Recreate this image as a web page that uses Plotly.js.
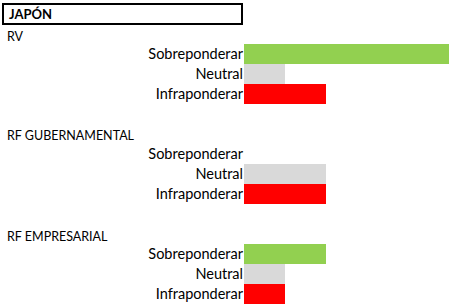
<!DOCTYPE html>
<html><head><meta charset="utf-8">
<script src="https://cdn.plot.ly/plotly-3.0.1.min.js"></script>
<style>html,body{margin:0;padding:0;background:#fff}#c{width:455px;height:308px}</style>
</head><body><div id="c"></div>
<script>
const categories = ["Sobreponderar", "Neutral", "Infraponderar"];
const sections = ["RV", "RF GUBERNAMENTAL", "RF EMPRESARIAL"];
const rvValues = [5, 1, 2];
const rfGubValues = [0, 2, 2];
const rfEmpValues = [2, 1, 1];
const barColors = ["#92D050", "#D9D9D9", "#FF0000"];
const mainTitle = "JAPÓN";

const W = 455, H = 308;
const seriesList = [rvValues, rfGubValues, rfEmpValues];
const yDomPx = [[44, 104], [144, 204], [244, 304]];
const labelY = [37, 135, 236];
const fontFam = "Lato, 'Open Sans', sans-serif";

const traces = seriesList.map((vals, i) => ({
  type: "bar", orientation: "h",
  x: vals, y: categories,
  xaxis: "x" + (i === 0 ? "" : i + 1),
  yaxis: "y" + (i === 0 ? "" : i + 1),
  marker: {color: barColors, line: {width: 0}},
  hoverinfo: "x+y", showlegend: false
}));

const layout = {
  width: W, height: H,
  margin: {l: 0, r: 0, t: 0, b: 0},
  paper_bgcolor: "#fff", plot_bgcolor: "rgba(0,0,0,0)",
  bargap: 0,
  font: {family: fontFam, size: 14, color: "#000"},
  showlegend: false,
  shapes: [{type: "rect", xref: "paper", yref: "paper",
    x0: 3/W, x1: 242/W, y0: 1 - 24/H, y1: 1 - 4/H,
    line: {color: "#000", width: 2}}],
  annotations: [{xref: "paper", yref: "paper", x: 7/W, y: 1 - 14/H,
    xanchor: "left", yanchor: "middle", showarrow: false,
    text: "<b>" + mainTitle + "</b>", font: {size: 13, family: fontFam}}]
};
sections.forEach((s, i) => {
  const sfx = i === 0 ? "" : String(i + 1);
  layout["xaxis" + sfx] = {
    domain: [244/W, 449/W], range: [0, 5], anchor: "y" + sfx,
    visible: false, fixedrange: true
  };
  layout["yaxis" + sfx] = {
    domain: [1 - yDomPx[i][1]/H, 1 - yDomPx[i][0]/H],
    anchor: "x" + sfx, type: "category",
    categoryorder: "array", categoryarray: categories,
    autorange: "reversed",
    showgrid: false, zeroline: false, showline: false,
    ticks: "", ticklen: 0,
    tickfont: {size: 14.5, family: fontFam, color: "#000"}, fixedrange: true
  };
  layout.annotations.push({xref: "paper", yref: "paper", x: 5/W, y: 1 - labelY[i]/H,
    xanchor: "left", yanchor: "middle", showarrow: false,
    text: s, font: {size: 12.5, family: fontFam}});
});
Plotly.newPlot("c", traces, layout, {displayModeBar: false, staticPlot: true});
</script></body></html>
